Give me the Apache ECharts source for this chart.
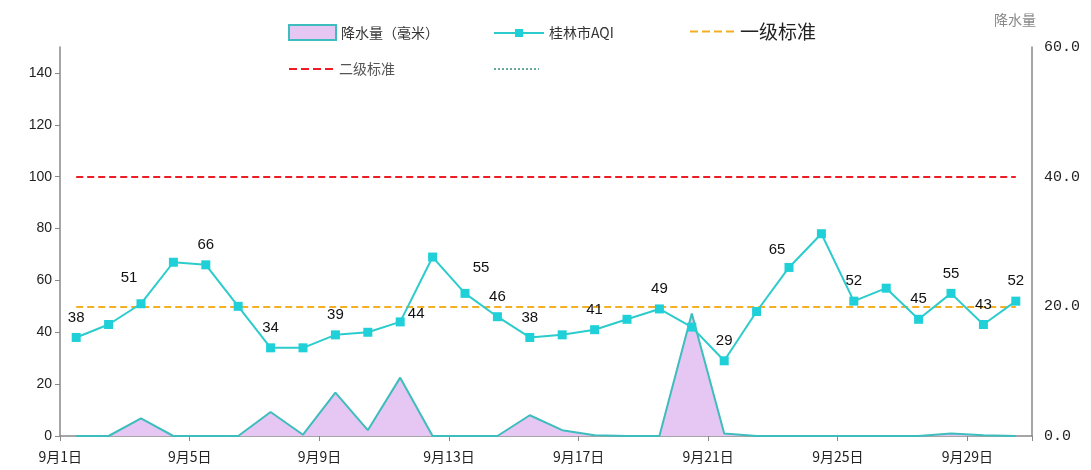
<!DOCTYPE html>
<html>
<head>
<meta charset="utf-8">
<script src="https://cdn.jsdelivr.net/npm/echarts@6/dist/echarts.min.js"></script>
<style>
  html, body { margin: 0; padding: 0; background: #fff; }
  #chart { width: 1091px; height: 470px; }
</style>
</head>
<body>
<div id="chart"></div>
<script>
// 9月每日
const days = [
  '9月1日', '9月2日', '9月3日', '9月4日', '9月5日', '9月6日', '9月7日', '9月8日', '9月9日', '9月10日',
  '9月11日', '9月12日', '9月13日', '9月14日', '9月15日', '9月16日', '9月17日', '9月18日', '9月19日', '9月20日',
  '9月21日', '9月22日', '9月23日', '9月24日', '9月25日', '9月26日', '9月27日', '9月28日', '9月29日', '9月30日'
]
// 桂林市AQI
const aqi = [38, 43, 51, 67, 66, 50, 34, 34, 39, 40, 44, 69, 55, 46, 38, 39, 41, 45, 49, 42,
  29, 48, 65, 78, 52, 57, 45, 55, 43, 52]
// 标了数值的点（下标）
const aqiLabelled = [0, 2, 4, 6, 8, 10, 12, 13, 14, 16, 18, 20, 22, 24, 26, 27, 28, 29]
// 降水量（毫米）
const rain = [0, 0, 2.7, 0, 0, 0, 3.7, 0.2, 6.7, 0.9, 9.0, 0, 0, 0, 3.2, 0.9, 0.1, 0, 0, 18.9,
  0.4, 0, 0, 0, 0, 0, 0, 0.4, 0.1, 0]
// 标准线
const level1 = 50
const level2 = 100

const leftTicks = { min: 0, max: 150, interval: 20 }
const rightTicks = { min: 0, max: 60, interval: 20 }

// 个别标签的偏移
const labelOffset = { 2: [-12, -6], 10: [16, 12], 12: [16, -6], 22: [-12, 2] }

const aqiData = aqi.map((v, i) => {
  const item = { value: v }
  if (aqiLabelled.includes(i)) {
    item.label = { show: true, offset: labelOffset[i] || [0, 0] }
  }
  return item
})

const chart = echarts.init(document.getElementById('chart'))

const legendText = { fontSize: 14, color: '#333', fontFamily: 'Noto Sans CJK SC' }
const noSymbol = { opacity: 0 }

chart.setOption({
  animation: false,
  backgroundColor: '#fff',
  textStyle: { fontFamily: 'Liberation Sans' },
  grid: { left: 60, right: 59, top: 47, bottom: 34 },
  legend: [
    { data: ['降水量（毫米）'], left: 283, top: 19, itemWidth: 47, itemHeight: 15, icon: 'rect',
      itemStyle: { color: '#e6c6f3', borderColor: '#3dbdbd', borderWidth: 2 }, textStyle: legendText },
    { data: ['桂林市AQI'], left: 488, top: 21, itemWidth: 50, itemHeight: 10, textStyle: legendText },
    { data: ['一级标准'], left: 684, top: 17, itemWidth: 45, itemHeight: 14, itemStyle: noSymbol,
      textStyle: { fontSize: 19, color: '#222', fontFamily: 'Noto Sans CJK SC' } },
    { data: ['二级标准'], left: 283, top: 57, itemWidth: 45, itemHeight: 14, itemStyle: noSymbol,
      textStyle: { fontSize: 14, color: '#555', fontFamily: 'Noto Sans CJK SC' } },
    { data: [' '], left: 488, top: 57, itemWidth: 45, itemHeight: 14, itemStyle: noSymbol,
      textStyle: legendText }
  ],
  xAxis: {
    type: 'category',
    data: days,
    boundaryGap: true,
    axisLine: { lineStyle: { color: '#888', width: 1.5 } },
    axisTick: { show: true, length: 5, lineStyle: { color: '#888' } },
    axisLabel: {
      interval: 3, margin: 14, fontSize: 14, color: '#222',
      fontFamily: 'Noto Sans CJK SC', padding: [0, 32, 0, 0]
    },
    splitLine: { show: false }
  },
  yAxis: [
    {
      type: 'value', min: leftTicks.min, max: leftTicks.max, interval: leftTicks.interval,
      axisLine: { show: true, lineStyle: { color: '#888', width: 1.5 } },
      axisTick: { show: true, length: 5, lineStyle: { color: '#888' } },
      axisLabel: { fontSize: 14, color: '#222', margin: 8, showMaxLabel: false },
      splitLine: { show: false }
    },
    {
      type: 'value', min: rightTicks.min, max: rightTicks.max, interval: rightTicks.interval,
      name: '降水量', nameLocation: 'end', nameGap: 20,
      nameTextStyle: { color: '#888', fontSize: 14, align: 'right', padding: [0, -4, 0, 0],
        fontFamily: 'Noto Sans CJK SC' },
      axisLine: { show: true, lineStyle: { color: '#888', width: 1.5 } },
      axisTick: { show: false },
      axisLabel: { fontSize: 15, color: '#222', margin: 12, fontFamily: 'Liberation Mono',
        formatter: v => v.toFixed(1) },
      splitLine: { show: false }
    }
  ],
  series: [
    {
      name: '降水量（毫米）', type: 'line', yAxisIndex: 1, data: rain,
      symbol: 'none',
      lineStyle: { color: '#3dbdbd', width: 2 },
      itemStyle: { color: '#3dbdbd' },
      areaStyle: { color: '#e6c6f3', opacity: 1 },
      z: 2
    },
    {
      name: '桂林市AQI', type: 'line', yAxisIndex: 0, data: aqiData,
      symbol: 'rect', symbolSize: 9,
      lineStyle: { color: '#2ccccc', width: 2 },
      itemStyle: { color: '#1fd0d8' },
      label: { show: false, position: 'top', distance: 8, color: '#111', fontSize: 15 },
      z: 5
    },
    {
      name: '一级标准', type: 'line', yAxisIndex: 0, data: [],
      symbol: 'none',
      lineStyle: { color: '#f5b022', type: 'dashed', width: 2 },
      itemStyle: { color: '#f5b022' },
      markLine: {
        silent: true, symbol: 'none', label: { show: false },
        lineStyle: { color: '#f5b022', type: [7, 4], width: 2 },
        data: [[{ xAxis: days[0], yAxis: level1 }, { xAxis: days[days.length - 1], yAxis: level1 }]]
      },
      z: 4
    },
    {
      name: '二级标准', type: 'line', yAxisIndex: 0, data: [],
      symbol: 'none',
      lineStyle: { color: '#ee1c24', type: 'dashed', width: 2 },
      itemStyle: { color: '#ee1c24' },
      markLine: {
        silent: true, symbol: 'none', label: { show: false },
        lineStyle: { color: '#ee1c24', type: [7, 4], width: 2 },
        data: [[{ xAxis: days[0], yAxis: level2 }, { xAxis: days[days.length - 1], yAxis: level2 }]]
      },
      z: 4
    },
    {
      name: ' ', type: 'line', yAxisIndex: 0, data: [],
      symbol: 'none',
      lineStyle: { color: '#6aa89c', type: 'dotted', width: 1 },
      itemStyle: { color: '#6aa89c' }
    }
  ]
})
</script>
</body>
</html>
